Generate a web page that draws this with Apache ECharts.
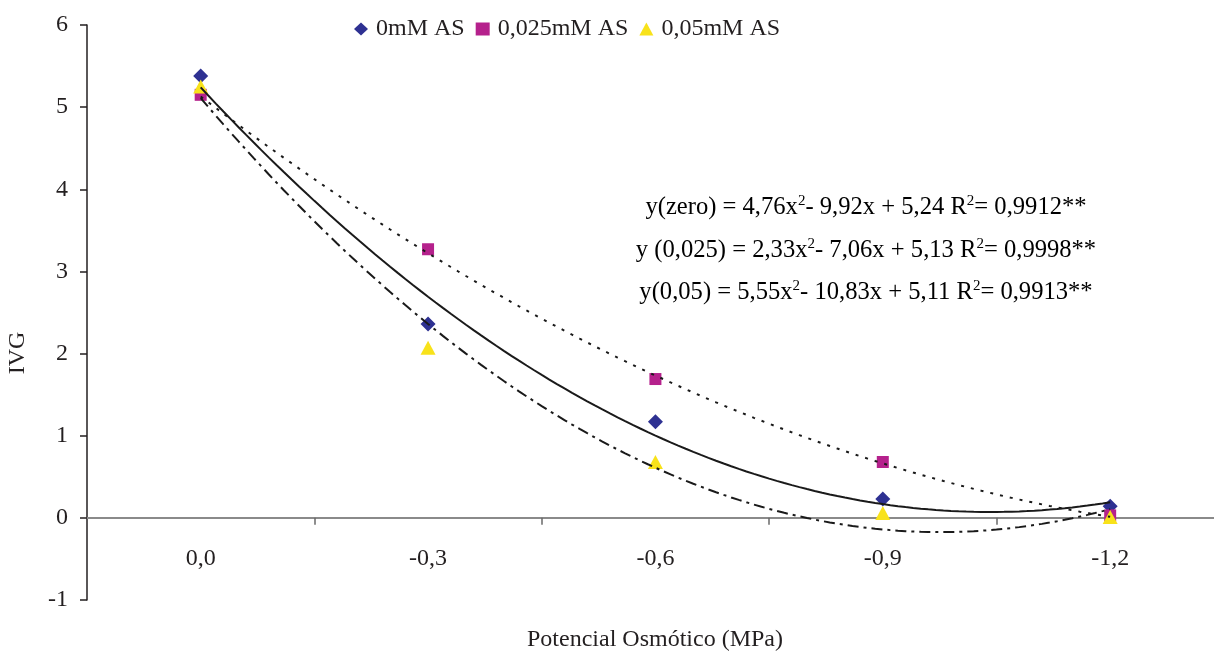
<!DOCTYPE html>
<html>
<head>
<meta charset="utf-8">
<script src="https://cdn.jsdelivr.net/npm/echarts@6/dist/echarts.min.js"></script>
<style>
  html, body { margin: 0; padding: 0; background: #fff; }
  #chart { width: 1214px; height: 656px; }
</style>
</head>
<body>
<div id="chart"></div>
<script>
// Osmotic potential levels (MPa): axis labels and the magnitudes used by the fits
const potentialLabels = ['0,0', '-0,3', '-0,6', '-0,9', '-1,2'];
const potentialMagnitude = [0, 0.3, 0.6, 0.9, 1.2];
// tick marks sit halfway between the labelled levels
const boundaryTicks = [0.15, 0.45, 0.75, 1.05];

// IVG measured at each level
const ivg0mM = [5.38, 2.36, 1.17, 0.23, 0.14];
const ivg025mM = [5.15, 3.27, 1.69, 0.68, 0.03];
const ivg05mM = [5.25, 2.07, 0.68, 0.06, 0.01];

// Quadratic trend coefficients [a, b, c] for y = a x^2 + b x + c, plus R^2
const fit0mM = [4.76, -9.92, 5.24];
const fit025mM = [2.33, -7.06, 5.13];
const fit05mM = [5.55, -10.83, 5.11];
const r2Values = [0.9912, 0.9998, 0.9913];
const fitNames = ['y(zero)', 'y (0,025)', 'y(0,05)'];

const seriesNames = ['0mM AS', '0,025mM AS', '0,05mM AS'];
const yTicks = [-1, 0, 1, 2, 3, 4, 5, 6];

const FONT = '"Liberation Serif", "Times New Roman", serif';
const TXT = '#231f20';

function pairs(values) {
  return values.map((v, i) => [potentialMagnitude[i], v]);
}

function trendPoints(coef) {
  const pts = [];
  const x0 = potentialMagnitude[0];
  const x1 = potentialMagnitude[potentialMagnitude.length - 1];
  const n = 120;
  for (let i = 0; i <= n; i++) {
    const x = x0 + (x1 - x0) * i / n;
    pts.push([x, coef[0] * x * x + coef[1] * x + coef[2]]);
  }
  return pts;
}

function fmt(v, d) { return Math.abs(v).toFixed(d).replace('.', ','); }

function equationText(name, coef, r2) {
  const sb = coef[1] < 0 ? '- ' : '+ ';
  const sc = coef[2] < 0 ? '- ' : '+ ';
  return '{a|' + name + ' = ' + fmt(coef[0], 2) + 'x}{s|2}{a|' + sb + fmt(coef[1], 2) +
    'x ' + sc + fmt(coef[2], 2) + ' R}{s|2}{a|= ' + fmt(r2, 4) + '**}';
}

const richEq = {
  a: { fontFamily: FONT, fontSize: 24.6, color: TXT, lineHeight: 26, verticalAlign: 'bottom' },
  s: { fontFamily: FONT, fontSize: 15, color: TXT, lineHeight: 26, verticalAlign: 'top', padding: [0, 0, 8, 0] }
};

const eqY = [207, 250, 292];
const fits = [fit0mM, fit025mM, fit05mM];
const lineTypes = ['solid', [3, 7], [11, 5, 3, 5]];

// grid spans 87px .. right edge; the x range keeps 0 and 1.2 at their column centres
const X_MIN = -0.15;
const X_MAX = 1.337;
const UNIT_PX = 575 / (yTicks[yTicks.length - 1] - yTicks[0]);

const chart = echarts.init(document.getElementById('chart'), null, { renderer: 'canvas' });

const option = {
  animation: false,
  backgroundColor: '#ffffff',
  textStyle: { fontFamily: FONT },
  grid: { left: 87, top: 25, right: 0, height: 575, containLabel: false },
  legend: {
    data: [
      { name: seriesNames[0], icon: 'diamond' },
      { name: seriesNames[1], icon: 'rect' },
      { name: seriesNames[2], icon: 'triangle' }
    ],
    left: 349,
    top: 12,
    itemWidth: 14,
    itemHeight: 13,
    itemGap: 11,
    textStyle: { fontFamily: FONT, fontSize: 24, color: TXT, padding: [0, 0, 0, 3] }
  },
  xAxis: {
    type: 'value',
    min: X_MIN,
    max: X_MAX,
    position: 'bottom',
    offset: -UNIT_PX * (0 - yTicks[0]),
    axisLine: { onZero: false, lineStyle: { color: '#8a8a8a', width: 2 } },
    axisTick: { show: true, length: 7, customValues: boundaryTicks, lineStyle: { color: '#6a6a6a', width: 1.5 } },
    axisLabel: {
      fontFamily: FONT, fontSize: 24, color: TXT, margin: 29,
      customValues: potentialMagnitude,
      formatter: function (v) {
        const i = potentialMagnitude.findIndex(p => Math.abs(p - v) < 1e-6);
        return i >= 0 ? potentialLabels[i] : '';
      }
    },
    splitLine: { show: false }
  },
  yAxis: {
    type: 'value',
    min: yTicks[0],
    max: yTicks[yTicks.length - 1],
    interval: 1,
    axisLine: { show: true, onZero: false, lineStyle: { color: '#231f20', width: 1.5 } },
    axisTick: { show: true, length: 7, lineStyle: { color: '#231f20', width: 1.5 } },
    axisLabel: { fontFamily: FONT, fontSize: 24, color: TXT, margin: 19 },
    splitLine: { show: false }
  },
  series: [
    {
      name: seriesNames[0], type: 'scatter', data: pairs(ivg0mM),
      symbol: 'diamond', symbolSize: 15, itemStyle: { color: '#2e3192', opacity: 1 }, z: 3
    },
    {
      name: seriesNames[1], type: 'scatter', data: pairs(ivg025mM),
      symbol: 'rect', symbolSize: 12, itemStyle: { color: '#b5218c', opacity: 1 }, z: 3
    },
    {
      name: seriesNames[2], type: 'scatter', data: pairs(ivg05mM),
      symbol: 'triangle', symbolSize: [15, 14], itemStyle: { color: '#f8e21a', opacity: 1 }, z: 3
    }
  ].concat(fits.map((c, i) => ({
    name: 'trend' + i,
    type: 'line',
    data: trendPoints(c),
    showSymbol: false,
    smooth: false,
    lineStyle: { color: '#1a1a1a', width: 2, type: lineTypes[i] },
    z: 4,
    silent: true
  }))),
  graphic: [
    {
      type: 'text', x: 18, y: 353, rotation: Math.PI / 2,
      style: { text: 'IVG', fontFamily: FONT, fontSize: 24, fill: TXT, textAlign: 'center', textVerticalAlign: 'middle' }
    },
    {
      type: 'text', x: 655, y: 640,
      style: { text: 'Potencial Osmótico (MPa)', fontFamily: FONT, fontSize: 24, fill: TXT, textAlign: 'center', textVerticalAlign: 'middle' }
    }
  ].concat(fits.map((c, i) => ({
    type: 'text',
    x: 866, y: eqY[i],
    style: {
      text: equationText(fitNames[i], c, r2Values[i]),
      rich: richEq,
      textAlign: 'center',
      textVerticalAlign: 'middle'
    }
  })))
};

chart.setOption(option);
</script>
</body>
</html>
